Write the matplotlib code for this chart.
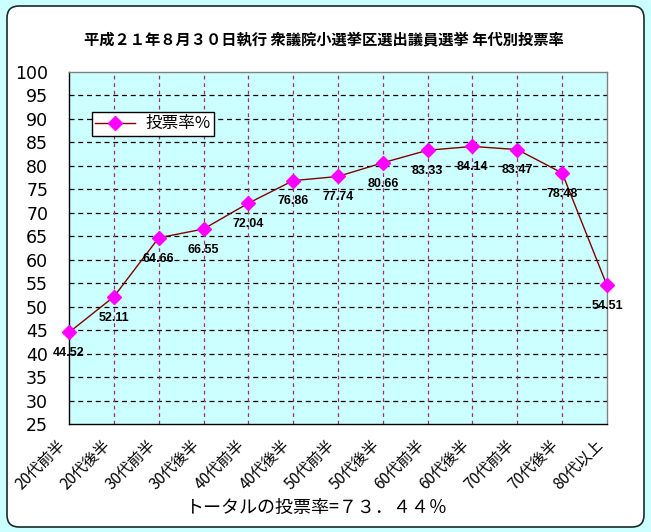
import matplotlib
matplotlib.use("Agg")
import matplotlib.pyplot as plt
from matplotlib.patches import FancyBboxPatch
from matplotlib.transforms import IdentityTransform, ScaledTranslation

plt.rcParams['font.family'] = ['Noto Sans CJK JP', 'DejaVu Sans']

title = "平成２１年８月３０日執行 衆議院小選挙区選出議員選挙 年代別投票率"
categories = ["20代前半", "20代後半", "30代前半", "30代後半", "40代前半", "40代後半",
              "50代前半", "50代後半", "60代前半", "60代後半", "70代前半", "70代後半", "80代以上"]
turnout = [44.52, 52.11, 64.66, 66.55, 72.04, 76.86, 77.74, 80.66, 83.33, 84.14, 83.47, 78.48, 54.51]
series_name = "投票率%"
y_ticks = [25, 30, 35, 40, 45, 50, 55, 60, 65, 70, 75, 80, 85, 90, 95, 100]
footer = "トータルの投票率=７３．４４％"

W, H = 651, 532
fig = plt.figure(figsize=(W / 100, H / 100), dpi=100, facecolor='#CCFFFF')

# white rounded panel
panel = FancyBboxPatch((7, H - 527), 637, 521,
                       boxstyle="round,pad=0,rounding_size=12",
                       transform=IdentityTransform(), facecolor='white',
                       edgecolor='#1a2a2a', linewidth=1.2, zorder=-10)
fig.patches.append(panel)

L, R, T, B = 69, 607, 72, 424
ax = fig.add_axes([L / W, 1 - B / H, (R - L) / W, (B - T) / H])
ax.set_facecolor('#CCFFFF')

x = list(range(len(categories)))
ax.plot(x, turnout, color='#800000', linewidth=1.0, marker='D',
        markersize=7.5, markerfacecolor='#FF00FF', markeredgecolor='#FF00FF',
        zorder=5, clip_on=False, label=series_name)

for xi, v in zip(x, turnout):
    ax.annotate(f"{v:.2f}", (xi, v), xytext=(0, -15), textcoords='offset points',
                ha='center', va='center', fontsize=9, fontweight='bold',
                family='Liberation Sans', color='black', zorder=6)

ax.set_xlim(0, len(categories) - 1)
ax.set_ylim(25, 100)
ax.set_yticks(y_ticks)
ax.set_yticklabels([str(t) for t in y_ticks], family='DejaVu Sans', fontsize=12.5)
ax.set_xticks(x)
ax.set_xticklabels(categories, rotation=45, ha='right', va='top', fontsize=11)
offset = ScaledTranslation(-13 / 100, 0, fig.dpi_scale_trans)
for lbl in ax.get_xticklabels():
    lbl.set_transform(lbl.get_transform() + offset)
ax.tick_params(axis='y', length=0, pad=15)
ax.tick_params(axis='x', length=0, pad=9)

# grid lines
for yv in y_ticks[1:-1]:
    ax.axhline(yv, color='black', linewidth=0.9, linestyle=(0, (4, 3)), zorder=1)
for xv in x[1:-1]:
    ax.axvline(xv, color='#993366', linewidth=0.9, linestyle=(0, (3, 3)), zorder=1)

for side in ['left', 'bottom']:
    ax.spines[side].set_color('black')
    ax.spines[side].set_linewidth(1.0)
for side in ['top', 'right']:
    ax.spines[side].set_color('#808080')
    ax.spines[side].set_linewidth(1.0)

leg = ax.legend(loc='upper left', bbox_to_anchor=(0.043, 0.886), frameon=True,
                fancybox=False, edgecolor='black', framealpha=1, fontsize=12,
                borderpad=0.2, handlelength=2.4, handletextpad=0.6, borderaxespad=0)
leg.get_frame().set_linewidth(1.0)

fig.text(324 / W, 1 - 40 / H, title, ha='center', va='center', fontsize=11, fontweight='bold')
fig.text(316 / W, 1 - 508 / H, footer, ha='center', va='center', fontsize=13)

fig.savefig('out.png', dpi=100, facecolor=fig.get_facecolor())
